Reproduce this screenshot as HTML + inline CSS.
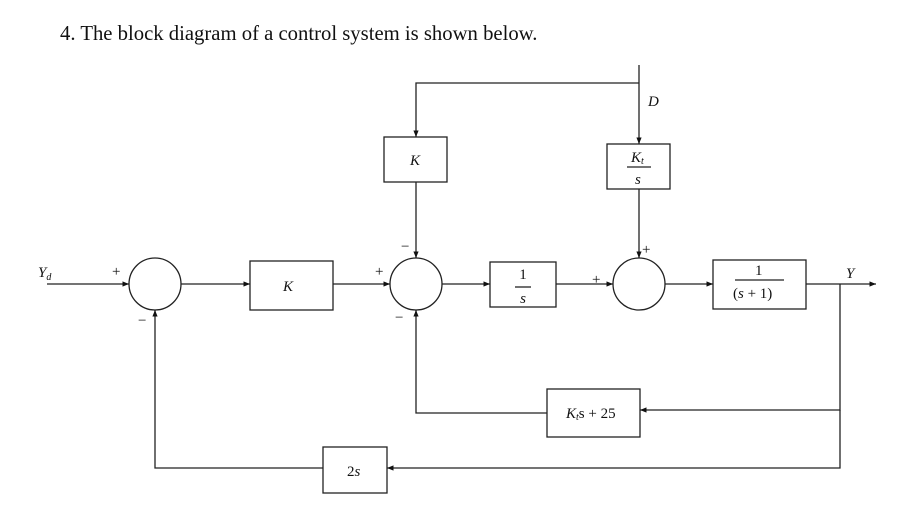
<!DOCTYPE html>
<html><head><style>body{margin:0;background:#fff}svg{display:block}text{font-family:"Liberation Serif",serif;fill:#111}</style></head><body>
<svg width="898" height="515" xmlns="http://www.w3.org/2000/svg">
<defs><marker id="a" markerWidth="6" markerHeight="6" refX="5" refY="3" orient="auto"><path d="M0,1 L5,3 L0,5z" fill="#111"/></marker></defs>
<text x="60" y="40" font-size="20.7">4. The block diagram of a control system is shown below.</text>
<g stroke="#222" stroke-width="1.3" fill="none">
<line x1="47" y1="284" x2="129" y2="284" marker-end="url(#a)"/>
<circle cx="155" cy="284" r="26"/>
<line x1="181" y1="284" x2="250" y2="284" marker-end="url(#a)"/>
<rect x="250" y="261" width="83" height="49"/>
<line x1="333" y1="284" x2="390" y2="284" marker-end="url(#a)"/>
<circle cx="416" cy="284" r="26"/>
<line x1="442" y1="284" x2="490" y2="284" marker-end="url(#a)"/>
<rect x="490" y="262" width="66" height="45"/>
<line x1="556" y1="284" x2="613" y2="284" marker-end="url(#a)"/>
<circle cx="639" cy="284" r="26"/>
<line x1="665" y1="284" x2="713" y2="284" marker-end="url(#a)"/>
<rect x="713" y="260" width="93" height="49"/>
<line x1="806" y1="284" x2="876" y2="284" marker-end="url(#a)"/>
<line x1="639" y1="65" x2="639" y2="144" marker-end="url(#a)"/>
<polyline points="639,83 416,83 416,137" marker-end="url(#a)"/>
<rect x="384" y="137" width="63" height="45"/>
<line x1="416" y1="182" x2="416" y2="258" marker-end="url(#a)"/>
<rect x="607" y="144" width="63" height="45"/>
<line x1="639" y1="189" x2="639" y2="258" marker-end="url(#a)"/>
<polyline points="840,284 840,410 640,410" marker-end="url(#a)"/>
<rect x="547" y="389" width="93" height="48"/>
<polyline points="547,413 416,413 416,310" marker-end="url(#a)"/>
<polyline points="840,410 840,468 387,468" marker-end="url(#a)"/>
<rect x="323" y="447" width="64" height="46"/>
<polyline points="323,468 155,468 155,310" marker-end="url(#a)"/>
<line x1="515" y1="287" x2="531" y2="287"/>
<line x1="627" y1="167" x2="651" y2="167"/>
<line x1="735" y1="280" x2="784" y2="280"/>
</g>
<g font-style="italic" font-size="15">
<text x="38" y="277">Y<tspan font-size="10" dy="3">d</tspan></text>
<text x="283" y="291">K</text>
<text x="410" y="165">K</text>
<text x="631" y="162">K<tspan font-size="10" dy="2">t</tspan></text>
<text x="635" y="184">s</text>
<text x="523" y="303" text-anchor="middle">s</text>
<text x="648" y="106">D</text>
<text x="846" y="278">Y</text>
<text x="566" y="418">K<tspan font-size="10" dy="2">t</tspan><tspan dy="-2" font-style="normal">s + 25</tspan></text>
<text x="347" y="476" font-style="normal">2<tspan font-style="italic">s</tspan></text>
<text x="733" y="298" font-style="normal">(<tspan font-style="italic">s</tspan> + 1)</text>
</g>
<g font-size="15">
<text x="523" y="279" text-anchor="middle">1</text>
<text x="755" y="275">1</text>
<text x="112" y="276">+</text>
<text x="138" y="325">−</text>
<text x="375" y="276">+</text>
<text x="401" y="251">−</text>
<text x="395" y="322">−</text>
<text x="592" y="284">+</text>
<text x="642" y="254">+</text>
</g>
</svg>
</body></html>
